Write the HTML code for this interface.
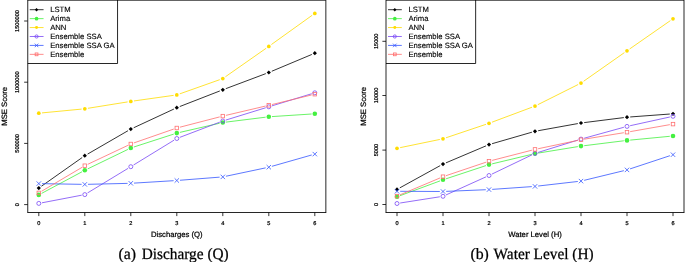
<!DOCTYPE html>
<html><head><meta charset="utf-8"><style>html,body{margin:0;padding:0;background:#fff;width:685px;height:262px;overflow:hidden}svg{display:block;will-change:transform}</style></head>
<body><svg width="685" height="262" viewBox="0 0 685 262">
<style>
text{font-family:"Liberation Sans",sans-serif;fill:#000;text-rendering:geometricPrecision}
.tk{font-size:5.6px;stroke:#000;stroke-width:0.22px}
.ax{font-size:7.7px;stroke:#000;stroke-width:0.22px}
.lg{font-size:7.7px;stroke:#000;stroke-width:0.12px}
.cap{font-family:"Liberation Serif",serif;font-size:15.8px;stroke:#000;stroke-width:0.25px}
</style>
<rect width="685" height="262" fill="#fff"/>
<line x1="24.15" y1="204.6" x2="27.75" y2="204.6" stroke="#000" stroke-width="0.8"/>
<text x="0" y="0" transform="translate(19.45,204.6) rotate(-90)" text-anchor="middle" class="tk">0</text>
<line x1="24.15" y1="143.4" x2="27.75" y2="143.4" stroke="#000" stroke-width="0.8"/>
<text x="0" y="0" transform="translate(19.45,143.4) rotate(-90)" text-anchor="middle" class="tk">500000</text>
<line x1="24.15" y1="82.2" x2="27.75" y2="82.2" stroke="#000" stroke-width="0.8"/>
<text x="0" y="0" transform="translate(19.45,82.2) rotate(-90)" text-anchor="middle" class="tk">1000000</text>
<line x1="24.15" y1="21.0" x2="27.75" y2="21.0" stroke="#000" stroke-width="0.8"/>
<text x="0" y="0" transform="translate(19.45,21.0) rotate(-90)" text-anchor="middle" class="tk">1500000</text>
<line x1="38.80" y1="212.5" x2="38.80" y2="216.10" stroke="#000" stroke-width="0.8"/>
<text x="38.80" y="225.3" text-anchor="middle" class="tk">0</text>
<line x1="84.80" y1="212.5" x2="84.80" y2="216.10" stroke="#000" stroke-width="0.8"/>
<text x="84.80" y="225.3" text-anchor="middle" class="tk">1</text>
<line x1="130.80" y1="212.5" x2="130.80" y2="216.10" stroke="#000" stroke-width="0.8"/>
<text x="130.80" y="225.3" text-anchor="middle" class="tk">2</text>
<line x1="176.80" y1="212.5" x2="176.80" y2="216.10" stroke="#000" stroke-width="0.8"/>
<text x="176.80" y="225.3" text-anchor="middle" class="tk">3</text>
<line x1="222.80" y1="212.5" x2="222.80" y2="216.10" stroke="#000" stroke-width="0.8"/>
<text x="222.80" y="225.3" text-anchor="middle" class="tk">4</text>
<line x1="268.80" y1="212.5" x2="268.80" y2="216.10" stroke="#000" stroke-width="0.8"/>
<text x="268.80" y="225.3" text-anchor="middle" class="tk">5</text>
<line x1="314.80" y1="212.5" x2="314.80" y2="216.10" stroke="#000" stroke-width="0.8"/>
<text x="314.80" y="225.3" text-anchor="middle" class="tk">6</text>
<text transform="translate(7.45,106.33) rotate(-90)" text-anchor="middle" class="ax">MSE Score</text>
<text x="176.80" y="236.9" text-anchor="middle" class="ax">Discharges (Q)</text>
<path d="M41.42 186.26L82.18 157.54M87.57 154.10L128.03 130.70M133.70 127.75L173.90 109.05M179.78 106.54L219.82 90.96M225.80 88.67L265.80 73.63M271.75 71.26L311.85 54.44" stroke="#000000" stroke-width="0.8" fill="none"/>
<path d="M38.80 186.00L40.90 188.10L38.80 190.20L36.70 188.10Z" fill="#000000"/>
<path d="M84.80 153.60L86.90 155.70L84.80 157.80L82.70 155.70Z" fill="#000000"/>
<path d="M130.80 127.00L132.90 129.10L130.80 131.20L128.70 129.10Z" fill="#000000"/>
<path d="M176.80 105.60L178.90 107.70L176.80 109.80L174.70 107.70Z" fill="#000000"/>
<path d="M222.80 87.70L224.90 89.80L222.80 91.90L220.70 89.80Z" fill="#000000"/>
<path d="M268.80 70.40L270.90 72.50L268.80 74.60L266.70 72.50Z" fill="#000000"/>
<path d="M314.80 51.10L316.90 53.20L314.80 55.30L312.70 53.20Z" fill="#000000"/>
<path d="M41.62 193.39L81.98 171.81M87.68 168.90L127.92 149.40M133.84 147.01L173.76 134.09M179.92 132.38L219.68 123.22M225.98 122.11L265.62 117.19M271.99 116.59L311.61 114.01" stroke="#44f040" stroke-width="0.8" fill="none"/>
<circle cx="38.80" cy="194.90" r="2.30" fill="#44f040"/>
<circle cx="84.80" cy="170.30" r="2.30" fill="#44f040"/>
<circle cx="130.80" cy="148.00" r="2.30" fill="#44f040"/>
<circle cx="176.80" cy="133.10" r="2.30" fill="#44f040"/>
<circle cx="222.80" cy="122.50" r="2.30" fill="#44f040"/>
<circle cx="268.80" cy="116.80" r="2.30" fill="#44f040"/>
<circle cx="314.80" cy="113.80" r="2.30" fill="#44f040"/>
<path d="M41.99 112.90L81.61 109.10M87.96 108.29L127.64 101.91M133.97 100.95L173.63 95.35M179.82 93.83L219.78 79.67M225.42 76.76L266.18 48.24M271.40 44.53L312.20 15.27" stroke="#ffdc00" stroke-width="0.8" fill="none"/>
<circle cx="38.80" cy="113.20" r="1.85" fill="#ffdc00"/>
<circle cx="84.80" cy="108.80" r="1.85" fill="#ffdc00"/>
<circle cx="130.80" cy="101.40" r="1.85" fill="#ffdc00"/>
<circle cx="176.80" cy="94.90" r="1.85" fill="#ffdc00"/>
<circle cx="222.80" cy="78.60" r="1.85" fill="#ffdc00"/>
<circle cx="268.80" cy="46.40" r="1.85" fill="#ffdc00"/>
<circle cx="314.80" cy="13.40" r="1.85" fill="#ffdc00"/>
<path d="M41.94 202.80L81.66 195.20M87.54 192.94L128.06 168.36M133.53 165.03L174.07 140.17M179.79 137.36L219.81 122.14M225.86 120.06L265.74 107.74M271.86 105.87L311.74 93.73" stroke="#7848f5" stroke-width="0.8" fill="none"/>
<circle cx="38.80" cy="203.40" r="2.00" fill="none" stroke="#7848f5" stroke-width="0.8"/>
<circle cx="84.80" cy="194.60" r="2.00" fill="none" stroke="#7848f5" stroke-width="0.8"/>
<circle cx="130.80" cy="166.70" r="2.00" fill="none" stroke="#7848f5" stroke-width="0.8"/>
<circle cx="176.80" cy="138.50" r="2.00" fill="none" stroke="#7848f5" stroke-width="0.8"/>
<circle cx="222.80" cy="121.00" r="2.00" fill="none" stroke="#7848f5" stroke-width="0.8"/>
<circle cx="268.80" cy="106.80" r="2.00" fill="none" stroke="#7848f5" stroke-width="0.8"/>
<circle cx="314.80" cy="92.80" r="2.00" fill="none" stroke="#7848f5" stroke-width="0.8"/>
<path d="M42.00 183.66L81.60 184.34M88.00 184.32L127.60 183.38M133.99 183.11L173.61 180.69M179.99 180.25L219.61 177.15M225.93 176.24L265.67 167.86M271.88 166.32L311.72 154.98" stroke="#3355ff" stroke-width="0.8" fill="none"/>
<path d="M36.60 181.40L41.00 185.80M36.60 185.80L41.00 181.40" stroke="#3355ff" stroke-width="0.8" fill="none"/>
<path d="M82.60 182.20L87.00 186.60M82.60 186.60L87.00 182.20" stroke="#3355ff" stroke-width="0.8" fill="none"/>
<path d="M128.60 181.10L133.00 185.50M128.60 185.50L133.00 181.10" stroke="#3355ff" stroke-width="0.8" fill="none"/>
<path d="M174.60 178.30L179.00 182.70M174.60 182.70L179.00 178.30" stroke="#3355ff" stroke-width="0.8" fill="none"/>
<path d="M220.60 174.70L225.00 179.10M220.60 179.10L225.00 174.70" stroke="#3355ff" stroke-width="0.8" fill="none"/>
<path d="M266.60 165.00L271.00 169.40M266.60 169.40L271.00 165.00" stroke="#3355ff" stroke-width="0.8" fill="none"/>
<path d="M312.60 151.90L317.00 156.30M312.60 156.30L317.00 151.90" stroke="#3355ff" stroke-width="0.8" fill="none"/>
<path d="M41.55 191.27L82.05 167.33M87.69 164.33L127.91 145.37M133.82 142.95L173.78 129.05M179.90 127.20L219.70 116.90M225.92 115.37L265.68 106.03M271.91 104.55L311.69 94.95" stroke="#ff7070" stroke-width="0.8" fill="none"/>
<rect x="37.05" y="191.15" width="3.50" height="3.50" fill="none" stroke="#ff7070" stroke-width="0.8"/>
<rect x="83.05" y="163.95" width="3.50" height="3.50" fill="none" stroke="#ff7070" stroke-width="0.8"/>
<rect x="129.05" y="142.25" width="3.50" height="3.50" fill="none" stroke="#ff7070" stroke-width="0.8"/>
<rect x="175.05" y="126.25" width="3.50" height="3.50" fill="none" stroke="#ff7070" stroke-width="0.8"/>
<rect x="221.05" y="114.35" width="3.50" height="3.50" fill="none" stroke="#ff7070" stroke-width="0.8"/>
<rect x="267.05" y="103.55" width="3.50" height="3.50" fill="none" stroke="#ff7070" stroke-width="0.8"/>
<rect x="313.05" y="92.45" width="3.50" height="3.50" fill="none" stroke="#ff7070" stroke-width="0.8"/>
<rect x="27.75" y="0.15" width="89.80" height="63.35" fill="#fff"/>
<path d="M27.75 63.5H117.55V0" fill="none" stroke="#000" stroke-width="0.85"/>
<line x1="29.75" y1="9.70" x2="43.55" y2="9.70" stroke="#000000" stroke-width="0.8"/>
<path d="M36.55 8.02L38.23 9.70L36.55 11.38L34.87 9.70Z" fill="#000000"/>
<text x="50.15" y="12.30" class="lg">LSTM</text>
<line x1="29.75" y1="18.63" x2="43.55" y2="18.63" stroke="#44f040" stroke-width="0.8"/>
<circle cx="36.55" cy="18.63" r="1.84" fill="#44f040"/>
<text x="50.15" y="21.20" class="lg">Arima</text>
<line x1="29.75" y1="27.56" x2="43.55" y2="27.56" stroke="#ffdc00" stroke-width="0.8"/>
<circle cx="36.55" cy="27.56" r="1.48" fill="#ffdc00"/>
<text x="50.15" y="30.10" class="lg">ANN</text>
<line x1="29.75" y1="36.49" x2="43.55" y2="36.49" stroke="#7848f5" stroke-width="0.8"/>
<circle cx="36.55" cy="36.49" r="1.60" fill="none" stroke="#7848f5" stroke-width="0.8"/>
<text x="50.15" y="39.00" class="lg">Ensemble SSA</text>
<line x1="29.75" y1="45.42" x2="43.55" y2="45.42" stroke="#3355ff" stroke-width="0.8"/>
<path d="M34.79 43.66L38.31 47.18M34.79 47.18L38.31 43.66" stroke="#3355ff" stroke-width="0.8" fill="none"/>
<text x="50.15" y="47.90" class="lg">Ensemble SSA GA</text>
<line x1="29.75" y1="54.35" x2="43.55" y2="54.35" stroke="#ff7070" stroke-width="0.8"/>
<rect x="35.15" y="52.95" width="2.80" height="2.80" fill="none" stroke="#ff7070" stroke-width="0.8"/>
<text x="50.15" y="56.80" class="lg">Ensemble</text>
<path d="M27.75 0V212.5M325.85 0V212.5M27.35 212.5H326.25" fill="none" stroke="#000" stroke-width="0.85"/>
<path d="M27.75 0.45H325.85" fill="none" stroke="#000" stroke-width="0.65"/>
<text x="118.60" y="258.7" class="cap">(a)</text>
<text x="141.70" y="258.7" class="cap" textLength="87.00" lengthAdjust="spacingAndGlyphs">Discharge (Q)</text>
<line x1="382.40" y1="204.5" x2="386.0" y2="204.5" stroke="#000" stroke-width="0.8"/>
<text x="0" y="0" transform="translate(377.70,204.5) rotate(-90)" text-anchor="middle" class="tk">0</text>
<line x1="382.40" y1="150.1" x2="386.0" y2="150.1" stroke="#000" stroke-width="0.8"/>
<text x="0" y="0" transform="translate(377.70,150.1) rotate(-90)" text-anchor="middle" class="tk">5000</text>
<line x1="382.40" y1="95.5" x2="386.0" y2="95.5" stroke="#000" stroke-width="0.8"/>
<text x="0" y="0" transform="translate(377.70,95.5) rotate(-90)" text-anchor="middle" class="tk">10000</text>
<line x1="382.40" y1="41.3" x2="386.0" y2="41.3" stroke="#000" stroke-width="0.8"/>
<text x="0" y="0" transform="translate(377.70,41.3) rotate(-90)" text-anchor="middle" class="tk">15000</text>
<line x1="397.00" y1="212.5" x2="397.00" y2="216.10" stroke="#000" stroke-width="0.8"/>
<text x="397.00" y="225.3" text-anchor="middle" class="tk">0</text>
<line x1="443.00" y1="212.5" x2="443.00" y2="216.10" stroke="#000" stroke-width="0.8"/>
<text x="443.00" y="225.3" text-anchor="middle" class="tk">1</text>
<line x1="489.00" y1="212.5" x2="489.00" y2="216.10" stroke="#000" stroke-width="0.8"/>
<text x="489.00" y="225.3" text-anchor="middle" class="tk">2</text>
<line x1="535.00" y1="212.5" x2="535.00" y2="216.10" stroke="#000" stroke-width="0.8"/>
<text x="535.00" y="225.3" text-anchor="middle" class="tk">3</text>
<line x1="581.00" y1="212.5" x2="581.00" y2="216.10" stroke="#000" stroke-width="0.8"/>
<text x="581.00" y="225.3" text-anchor="middle" class="tk">4</text>
<line x1="627.00" y1="212.5" x2="627.00" y2="216.10" stroke="#000" stroke-width="0.8"/>
<text x="627.00" y="225.3" text-anchor="middle" class="tk">5</text>
<line x1="673.00" y1="212.5" x2="673.00" y2="216.10" stroke="#000" stroke-width="0.8"/>
<text x="673.00" y="225.3" text-anchor="middle" class="tk">6</text>
<text transform="translate(365.70,106.33) rotate(-90)" text-anchor="middle" class="ax">MSE Score</text>
<text x="535.00" y="236.9" text-anchor="middle" class="ax">Water Level (H)</text>
<path d="M399.80 187.86L440.20 165.64M445.95 162.85L486.05 145.85M492.07 143.71L531.93 132.19M538.15 130.73L577.85 123.57M584.17 122.60L623.83 117.60M630.19 116.96L669.81 114.04" stroke="#000000" stroke-width="0.8" fill="none"/>
<path d="M397.00 187.30L399.10 189.40L397.00 191.50L394.90 189.40Z" fill="#000000"/>
<path d="M443.00 162.00L445.10 164.10L443.00 166.20L440.90 164.10Z" fill="#000000"/>
<path d="M489.00 142.50L491.10 144.60L489.00 146.70L486.90 144.60Z" fill="#000000"/>
<path d="M535.00 129.20L537.10 131.30L535.00 133.40L532.90 131.30Z" fill="#000000"/>
<path d="M581.00 120.90L583.10 123.00L581.00 125.10L578.90 123.00Z" fill="#000000"/>
<path d="M627.00 115.10L629.10 117.20L627.00 119.30L624.90 117.20Z" fill="#000000"/>
<path d="M673.00 111.70L675.10 113.80L673.00 115.90L670.90 113.80Z" fill="#000000"/>
<path d="M400.00 195.69L440.00 180.91M446.04 178.80L485.96 165.60M492.11 163.86L531.89 154.34M538.16 153.09L577.84 146.61M584.18 145.71L623.82 140.79M630.19 140.10L669.81 136.30" stroke="#44f040" stroke-width="0.8" fill="none"/>
<circle cx="397.00" cy="196.80" r="2.30" fill="#44f040"/>
<circle cx="443.00" cy="179.80" r="2.30" fill="#44f040"/>
<circle cx="489.00" cy="164.60" r="2.30" fill="#44f040"/>
<circle cx="535.00" cy="153.60" r="2.30" fill="#44f040"/>
<circle cx="581.00" cy="146.10" r="2.30" fill="#44f040"/>
<circle cx="627.00" cy="140.40" r="2.30" fill="#44f040"/>
<circle cx="673.00" cy="136.00" r="2.30" fill="#44f040"/>
<path d="M400.13 147.65L439.87 139.45M446.03 137.78L485.97 124.32M492.00 122.18L532.00 107.22M537.86 104.67L578.14 84.53M583.62 81.26L624.38 52.64M629.63 48.97L670.37 20.63" stroke="#ffdc00" stroke-width="0.8" fill="none"/>
<circle cx="397.00" cy="148.30" r="1.85" fill="#ffdc00"/>
<circle cx="443.00" cy="138.80" r="1.85" fill="#ffdc00"/>
<circle cx="489.00" cy="123.30" r="1.85" fill="#ffdc00"/>
<circle cx="535.00" cy="106.10" r="1.85" fill="#ffdc00"/>
<circle cx="581.00" cy="83.10" r="1.85" fill="#ffdc00"/>
<circle cx="627.00" cy="50.80" r="1.85" fill="#ffdc00"/>
<circle cx="673.00" cy="18.80" r="1.85" fill="#ffdc00"/>
<path d="M400.16 203.01L439.84 196.79M445.92 194.98L486.08 176.82M491.88 174.11L532.12 154.79M538.06 152.45L577.94 140.05M584.08 138.25L623.92 127.25M630.13 125.71L669.87 116.99" stroke="#7848f5" stroke-width="0.8" fill="none"/>
<circle cx="397.00" cy="203.50" r="2.00" fill="none" stroke="#7848f5" stroke-width="0.8"/>
<circle cx="443.00" cy="196.30" r="2.00" fill="none" stroke="#7848f5" stroke-width="0.8"/>
<circle cx="489.00" cy="175.50" r="2.00" fill="none" stroke="#7848f5" stroke-width="0.8"/>
<circle cx="535.00" cy="153.40" r="2.00" fill="none" stroke="#7848f5" stroke-width="0.8"/>
<circle cx="581.00" cy="139.10" r="2.00" fill="none" stroke="#7848f5" stroke-width="0.8"/>
<circle cx="627.00" cy="126.40" r="2.00" fill="none" stroke="#7848f5" stroke-width="0.8"/>
<circle cx="673.00" cy="116.30" r="2.00" fill="none" stroke="#7848f5" stroke-width="0.8"/>
<path d="M400.20 191.31L439.80 191.49M446.20 191.37L485.80 189.73M492.19 189.38L531.81 186.62M538.18 186.03L577.82 181.47M584.11 180.34L623.89 170.66M630.04 168.90L669.96 155.70" stroke="#3355ff" stroke-width="0.8" fill="none"/>
<path d="M394.80 189.10L399.20 193.50M394.80 193.50L399.20 189.10" stroke="#3355ff" stroke-width="0.8" fill="none"/>
<path d="M440.80 189.30L445.20 193.70M440.80 193.70L445.20 189.30" stroke="#3355ff" stroke-width="0.8" fill="none"/>
<path d="M486.80 187.40L491.20 191.80M486.80 191.80L491.20 187.40" stroke="#3355ff" stroke-width="0.8" fill="none"/>
<path d="M532.80 184.20L537.20 188.60M532.80 188.60L537.20 184.20" stroke="#3355ff" stroke-width="0.8" fill="none"/>
<path d="M578.80 178.90L583.20 183.30M578.80 183.30L583.20 178.90" stroke="#3355ff" stroke-width="0.8" fill="none"/>
<path d="M624.80 167.70L629.20 172.10M624.80 172.10L629.20 167.70" stroke="#3355ff" stroke-width="0.8" fill="none"/>
<path d="M670.80 152.50L675.20 156.90M670.80 156.90L675.20 152.50" stroke="#3355ff" stroke-width="0.8" fill="none"/>
<path d="M399.95 194.86L440.05 177.94M446.03 175.68L485.97 162.22M492.10 160.40L531.90 150.20M538.13 148.74L577.87 140.36M584.16 139.19L623.84 132.71M630.15 131.65L669.85 124.65" stroke="#ff7070" stroke-width="0.8" fill="none"/>
<rect x="395.25" y="194.35" width="3.50" height="3.50" fill="none" stroke="#ff7070" stroke-width="0.8"/>
<rect x="441.25" y="174.95" width="3.50" height="3.50" fill="none" stroke="#ff7070" stroke-width="0.8"/>
<rect x="487.25" y="159.45" width="3.50" height="3.50" fill="none" stroke="#ff7070" stroke-width="0.8"/>
<rect x="533.25" y="147.65" width="3.50" height="3.50" fill="none" stroke="#ff7070" stroke-width="0.8"/>
<rect x="579.25" y="137.95" width="3.50" height="3.50" fill="none" stroke="#ff7070" stroke-width="0.8"/>
<rect x="625.25" y="130.45" width="3.50" height="3.50" fill="none" stroke="#ff7070" stroke-width="0.8"/>
<rect x="671.25" y="122.35" width="3.50" height="3.50" fill="none" stroke="#ff7070" stroke-width="0.8"/>
<rect x="386.0" y="0.15" width="89.65" height="63.35" fill="#fff"/>
<path d="M386.0 63.5H475.65V0" fill="none" stroke="#000" stroke-width="0.85"/>
<line x1="388.00" y1="9.70" x2="401.80" y2="9.70" stroke="#000000" stroke-width="0.8"/>
<path d="M394.80 8.02L396.48 9.70L394.80 11.38L393.12 9.70Z" fill="#000000"/>
<text x="408.40" y="12.30" class="lg">LSTM</text>
<line x1="388.00" y1="18.63" x2="401.80" y2="18.63" stroke="#44f040" stroke-width="0.8"/>
<circle cx="394.80" cy="18.63" r="1.84" fill="#44f040"/>
<text x="408.40" y="21.20" class="lg">Arima</text>
<line x1="388.00" y1="27.56" x2="401.80" y2="27.56" stroke="#ffdc00" stroke-width="0.8"/>
<circle cx="394.80" cy="27.56" r="1.48" fill="#ffdc00"/>
<text x="408.40" y="30.10" class="lg">ANN</text>
<line x1="388.00" y1="36.49" x2="401.80" y2="36.49" stroke="#7848f5" stroke-width="0.8"/>
<circle cx="394.80" cy="36.49" r="1.60" fill="none" stroke="#7848f5" stroke-width="0.8"/>
<text x="408.40" y="39.00" class="lg">Ensemble SSA</text>
<line x1="388.00" y1="45.42" x2="401.80" y2="45.42" stroke="#3355ff" stroke-width="0.8"/>
<path d="M393.04 43.66L396.56 47.18M393.04 47.18L396.56 43.66" stroke="#3355ff" stroke-width="0.8" fill="none"/>
<text x="408.40" y="47.90" class="lg">Ensemble SSA GA</text>
<line x1="388.00" y1="54.35" x2="401.80" y2="54.35" stroke="#ff7070" stroke-width="0.8"/>
<rect x="393.40" y="52.95" width="2.80" height="2.80" fill="none" stroke="#ff7070" stroke-width="0.8"/>
<text x="408.40" y="56.80" class="lg">Ensemble</text>
<path d="M386.0 0V212.5M684.0 0V212.5M385.6 212.5H684.4" fill="none" stroke="#000" stroke-width="0.85"/>
<path d="M386.0 0.45H684.0" fill="none" stroke="#000" stroke-width="0.65"/>
<text x="470.40" y="258.7" class="cap">(b)</text>
<text x="493.60" y="258.7" class="cap" textLength="100.00" lengthAdjust="spacingAndGlyphs">Water Level (H)</text>
</svg></body></html>
